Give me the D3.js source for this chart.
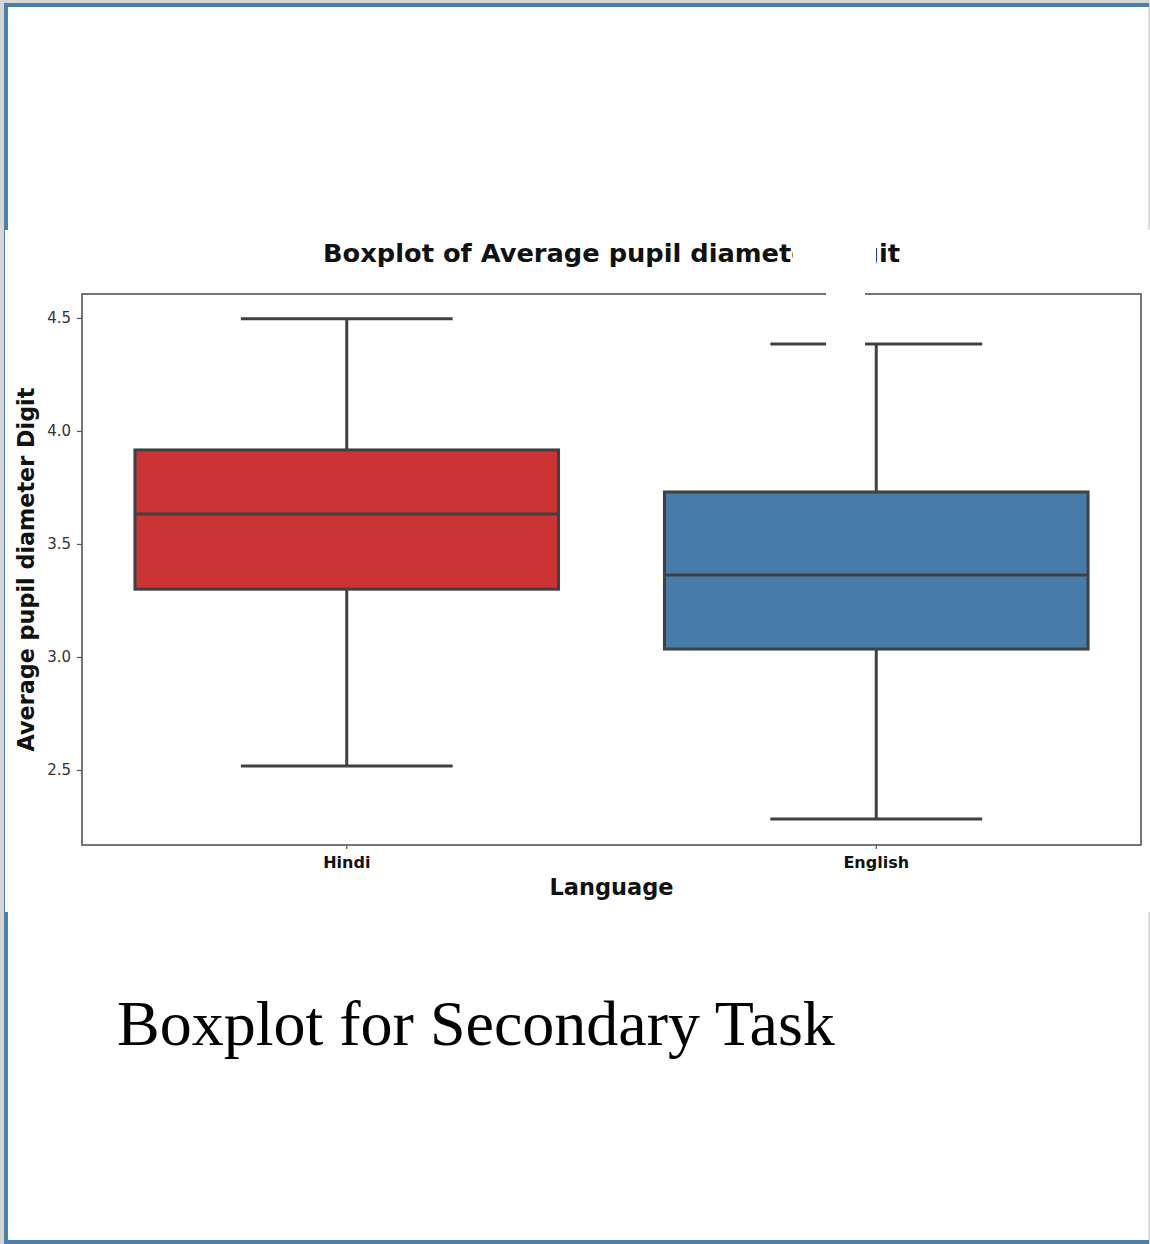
<!DOCTYPE html>
<html>
<head>
<meta charset="utf-8">
<script src="https://cdn.jsdelivr.net/npm/d3@7"></script>
<style>
  body { margin: 0; background: #fff; }
  svg { display: block; }
</style>
</head>
<body>
<div id="chart"></div>
<script>
// data
const languages = ["Hindi", "English"];
const q1Values = [3.30, 3.035];
const medianValues = [3.633, 3.363];
const q3Values = [3.916, 3.730];
const lowWhisker = [2.518, 2.283];
const highWhisker = [4.496, 4.385];
const boxColors = ["#cb3335", "#477ca8"];
const yTicks = [2.5, 3.0, 3.5, 4.0, 4.5];

const width = 1150, height = 1244;
const svg = d3.select("#chart").append("svg")
  .attr("width", width).attr("height", height);

// page frame
svg.append("rect").attr("x", 0).attr("y", 0).attr("width", width).attr("height", height).attr("fill", "#d6d6d6");
svg.append("rect").attr("x", 4).attr("y", 3).attr("width", width - 5).attr("height", height - 3).attr("fill", "#4a7eab");
svg.append("rect").attr("x", 8).attr("y", 7).attr("width", 1140).attr("height", 1233).attr("fill", "#fff");
svg.append("line").attr("x1", 1148.5).attr("x2", 1148.5).attr("y1", 7).attr("y2", 1240)
  .attr("stroke", "#dde3ea").attr("stroke-width", 1);

// pasted chart image area
svg.append("rect").attr("x", 5).attr("y", 230).attr("width", 1145).attr("height", 682).attr("fill", "#fff");

const margin = {left: 82, right: 1141, top: 294, bottom: 845};

const x = d3.scaleBand().domain(languages).range([margin.left, margin.right]);
const y = d3.scaleLinear().domain([2.168, 4.606]).range([margin.bottom, margin.top]);

const lineCol = "#404040";
const g = svg.append("g");

// y axis
const yAxis = g.append("g")
  .attr("transform", `translate(${margin.left},0)`)
  .call(d3.axisLeft(y).tickValues(yTicks).tickFormat(d3.format(".1f")).tickSize(5).tickPadding(6));
yAxis.select(".domain").remove();
yAxis.selectAll("line").attr("stroke", "#555").attr("stroke-width", 1.2);
yAxis.selectAll("text").attr("font-family", "DejaVu Sans").attr("font-size", 15).attr("fill", "#333");

// x axis
const xAxis = g.append("g")
  .attr("transform", `translate(0,${margin.bottom})`)
  .call(d3.axisBottom(x).tickSize(4).tickPadding(8));
xAxis.select(".domain").remove();
xAxis.selectAll("line").attr("stroke", "#555").attr("stroke-width", 1.2);
xAxis.selectAll("text").attr("font-family", "DejaVu Sans").attr("font-weight", "bold")
  .attr("font-size", 16).attr("fill", "#111");

// axes frame
g.append("rect")
  .attr("x", margin.left).attr("y", margin.top)
  .attr("width", margin.right - margin.left).attr("height", margin.bottom - margin.top)
  .attr("fill", "none").attr("stroke", "#555").attr("stroke-width", 1.6);

// boxes
const boxW = x.bandwidth() * 0.8;
const capW = x.bandwidth() * 0.4;
languages.forEach((lang, i) => {
  const cx = x(lang) + x.bandwidth() / 2;
  const bg = g.append("g");
  bg.append("line").attr("x1", cx).attr("x2", cx).attr("y1", y(q3Values[i])).attr("y2", y(highWhisker[i]))
    .attr("stroke", lineCol).attr("stroke-width", 3);
  bg.append("line").attr("x1", cx).attr("x2", cx).attr("y1", y(q1Values[i])).attr("y2", y(lowWhisker[i]))
    .attr("stroke", lineCol).attr("stroke-width", 3);
  bg.append("line").attr("x1", cx - capW / 2).attr("x2", cx + capW / 2)
    .attr("y1", y(highWhisker[i])).attr("y2", y(highWhisker[i]))
    .attr("stroke", lineCol).attr("stroke-width", 3);
  bg.append("line").attr("x1", cx - capW / 2).attr("x2", cx + capW / 2)
    .attr("y1", y(lowWhisker[i])).attr("y2", y(lowWhisker[i]))
    .attr("stroke", lineCol).attr("stroke-width", 3);
  bg.append("rect")
    .attr("x", cx - boxW / 2).attr("width", boxW)
    .attr("y", y(q3Values[i])).attr("height", y(q1Values[i]) - y(q3Values[i]))
    .attr("fill", boxColors[i]).attr("stroke", lineCol).attr("stroke-width", 3);
  bg.append("line").attr("x1", cx - boxW / 2).attr("x2", cx + boxW / 2)
    .attr("y1", y(medianValues[i])).attr("y2", y(medianValues[i]))
    .attr("stroke", lineCol).attr("stroke-width", 3);
});

// titles
svg.append("text")
  .attr("x", (margin.left + margin.right) / 2).attr("y", 262)
  .attr("text-anchor", "middle")
  .attr("font-family", "DejaVu Sans").attr("font-weight", "bold").attr("font-size", 25)
  .attr("textLength", 577).attr("lengthAdjust", "spacingAndGlyphs")
  .attr("fill", "#111")
  .text("Boxplot of Average pupil diameter Digit");

svg.append("text")
  .attr("x", (margin.left + margin.right) / 2).attr("y", 895)
  .attr("text-anchor", "middle")
  .attr("font-family", "DejaVu Sans").attr("font-weight", "bold").attr("font-size", 22.5)
  .attr("fill", "#111")
  .text("Language");

svg.append("text")
  .attr("transform", `translate(34,${(margin.top + margin.bottom) / 2}) rotate(-90)`)
  .attr("text-anchor", "middle")
  .attr("font-family", "DejaVu Sans").attr("font-weight", "bold").attr("font-size", 22.3)
  .attr("fill", "#111")
  .text("Average pupil diameter Digit");

// white patches covering part of the title and frame in the original scan
svg.append("rect").attr("x", 793).attr("y", 231).attr("width", 83).attr("height", 42).attr("fill", "#fff");
svg.append("rect").attr("x", 826).attr("y", 231).attr("width", 39).attr("height", 117).attr("fill", "#fff");

// caption
svg.append("text")
  .attr("x", 117).attr("y", 1045)
  .attr("font-family", "Liberation Serif").attr("font-size", 64)
  .attr("fill", "#000")
  .text("Boxplot for Secondary Task");
</script>
</body>
</html>
